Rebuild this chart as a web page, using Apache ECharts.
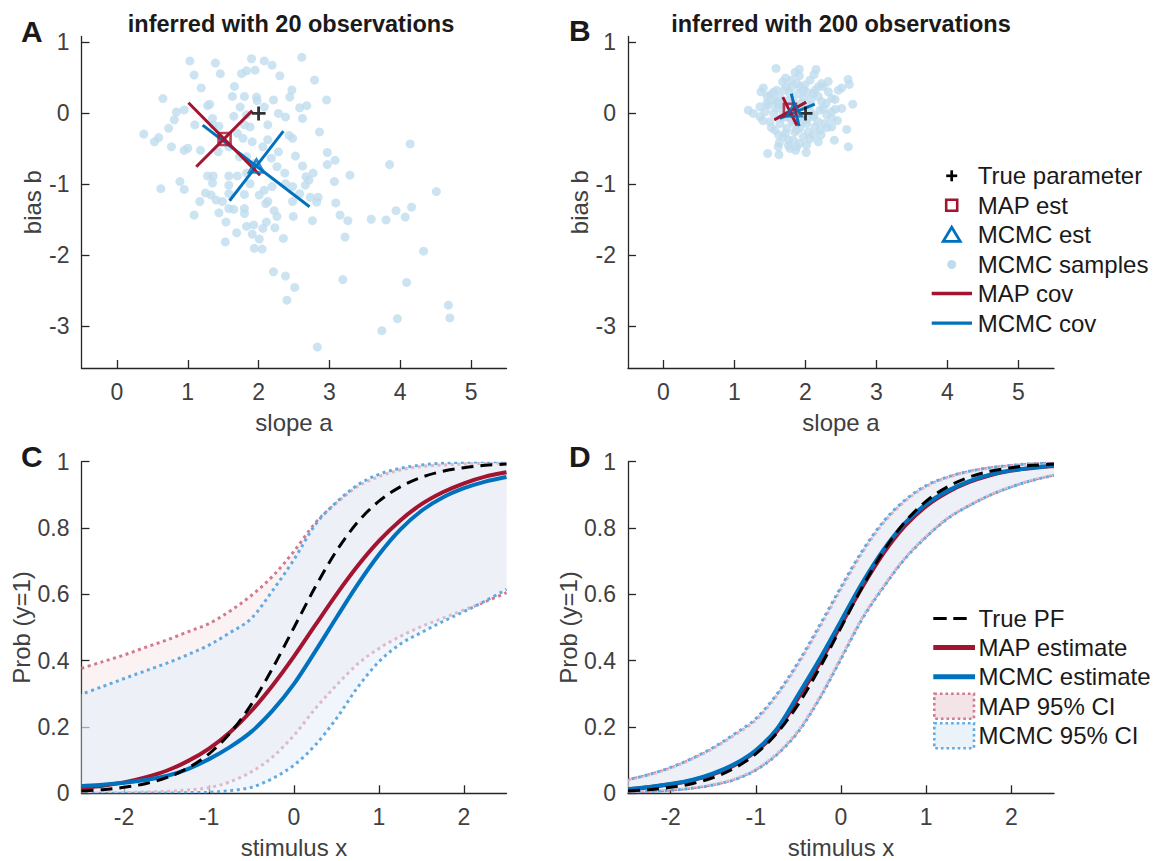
<!DOCTYPE html>
<html><head><meta charset="utf-8">
<script src="https://cdn.jsdelivr.net/npm/echarts@6/dist/echarts.min.js"></script>
<style>html,body{margin:0;padding:0;background:#fff}#c{width:1156px;height:861px}</style>
</head><body><div id="c"></div>
<script>
// ---------- DATA ----------
const titleA = 'inferred with 20 observations';
const titleB = 'inferred with 200 observations';
const slopeTicks = [0, 1, 2, 3, 4, 5];
const biasTicks = [-3, -2, -1, 0, 1];
const stimTicks = [-2, -1, 0, 1, 2];
const probTicks = [0, 0.2, 0.4, 0.6, 0.8, 1];

const trueParam = [2, 0];
const mapEstA = [1.52, -0.36];
const mcmcEstA = [1.97, -0.74];
const mapCovA = [[[1.01, 0.15], [2.02, -0.87]], [[1.12, -0.75], [1.91, 0.04]]];
const mcmcCovA = [[[1.21, -0.165], [2.72, -1.315]], [[1.59, -1.23], [2.35, -0.25]]];
const samplesA = [[1.03,0.74],[1.39,0.71],[1.09,0.54],[1.46,0.56],[1.90,0.77],[2.08,0.74],[2.19,0.68],[2.61,0.79],[1.95,0.61],[1.83,0.60],[1.76,0.56],[2.30,0.53],[2.79,0.47],[1.19,0.36],[1.66,0.38],[2.47,0.33],[2.44,0.23],[1.63,0.24],[1.80,0.24],[1.97,0.23],[1.98,0.18],[2.21,0.19],[2.96,0.19],[0.65,0.21],[1.28,0.11],[1.31,0.13],[0.84,0.02],[0.95,0.05],[1.74,0.09],[2.08,0.09],[2.58,0.08],[2.68,0.11],[2.28,0.0],[2.38,-0.05],[2.62,-0.07],[1.35,-0.07],[1.65,-0.04],[1.83,-0.02],[0.81,-0.09],[1.10,-0.16],[0.73,-0.21],[1.36,-0.16],[1.80,-0.16],[2.13,-0.16],[0.38,-0.29],[0.59,-0.34],[0.53,-0.40],[2.86,-0.26],[2.43,-0.31],[2.48,-0.35],[2.13,-0.37],[1.78,-0.35],[1.70,-0.28],[0.77,-0.47],[0.95,-0.52],[1.00,-0.49],[1.18,-0.52],[1.43,-0.54],[1.58,-0.47],[1.91,-0.40],[2.06,-0.47],[2.28,-0.54],[2.52,-0.60],[2.18,-0.63],[1.83,-0.61],[2.97,-0.55],[3.08,-0.66],[2.97,-0.72],[2.62,-0.74],[3.85,-0.72],[4.14,-0.43],[3.29,-0.87],[2.37,-0.84],[1.28,-0.88],[1.36,-0.88],[1.58,-0.88],[1.70,-0.88],[1.83,-0.84],[2.67,-0.89],[2.77,-0.84],[2.71,-0.94],[0.89,-0.96],[1.35,-0.98],[1.88,-0.99],[1.58,-1.01],[2.66,-1.01],[0.62,-1.06],[0.95,-1.07],[2.08,-1.08],[2.19,-1.03],[2.38,-0.99],[2.48,-1.03],[3.07,-0.96],[1.25,-1.12],[1.33,-1.15],[1.58,-1.13],[1.80,-1.14],[2.01,-1.15],[2.58,-1.13],[2.73,-1.18],[2.84,-1.18],[4.51,-1.10],[1.17,-1.24],[1.40,-1.22],[1.49,-1.24],[2.13,-1.24],[2.48,-1.24],[2.82,-1.25],[3.09,-1.26],[1.58,-1.34],[1.65,-1.35],[2.10,-1.27],[1.80,-1.34],[4.16,-1.32],[3.94,-1.37],[1.09,-1.43],[1.44,-1.40],[1.80,-1.41],[2.22,-1.37],[2.26,-1.45],[2.49,-1.45],[3.15,-1.43],[4.07,-1.46],[3.59,-1.49],[3.80,-1.50],[3.26,-1.51],[2.76,-1.51],[1.54,-1.53],[2.11,-1.53],[1.83,-1.59],[1.93,-1.57],[2.06,-1.62],[2.23,-1.61],[1.69,-1.68],[1.91,-1.70],[2.01,-1.77],[2.35,-1.76],[3.22,-1.74],[1.53,-1.81],[1.94,-1.90],[2.05,-1.91],[4.33,-1.94],[2.21,-2.23],[2.38,-2.29],[3.19,-2.34],[4.09,-2.38],[2.51,-2.45],[2.40,-2.63],[4.68,-2.70],[4.70,-2.88],[3.96,-2.89],[3.74,-3.06],[2.83,-3.29],[1.44,-0.18],[1.88,-0.19],[1.73,-0.61],[1.95,-0.70],[2.26,-0.75]];

const mapEstB = [1.78, 0.05];
const mcmcEstB = [1.84, 0.05];
const mapCovB = [[[1.68, 0.23], [1.88, -0.17]], [[1.56, -0.09], [2.01, 0.16]]];
const mcmcCovB = [[[1.80, 0.28], [1.91, -0.18]], [[1.64, -0.07], [2.13, 0.13]]];
const samplesB = [[1.585,0.634],[1.913,0.624],[2.148,0.62],[1.852,0.577],[1.913,0.53],[2.60,0.478],[2.618,0.408],[2.51,0.36],[2.228,0.42],[2.181,0.375],[1.678,0.445],[1.406,0.36],[1.373,0.305],[1.50,0.258],[1.594,0.328],[1.735,0.375],[1.92,0.375],[2.134,0.328],[2.322,0.305],[2.369,0.211],[2.289,0.14],[2.416,0.197],[2.665,0.131],[2.51,0.07],[1.195,0.046],[1.359,0.093],[1.453,0.14],[1.43,0.023],[1.594,0.164],[2.063,0.117],[2.204,0.046],[2.11,-0.05],[2.37,-0.07],[2.275,-0.14],[1.50,-0.118],[1.64,-0.14],[1.735,-0.21],[1.875,-0.235],[2.04,-0.259],[2.11,-0.305],[2.58,-0.225],[1.688,-0.329],[1.829,-0.376],[1.92,-0.423],[2.016,-0.446],[1.632,-0.413],[2.406,-0.376],[2.603,-0.47],[1.467,-0.564],[1.626,-0.58],[1.781,-0.493],[1.875,-0.47],[1.688,0.0],[1.97,0.211],[1.829,0.188],[2.016,-0.14],[1.92,-0.05],[2.204,-0.235],[1.78,-0.05],[1.57,-0.235],[1.359,-0.047],[1.265,0.0],[2.462,0.328],[2.11,0.28],[1.97,0.328],[1.78,0.28],[1.64,0.23],[2.063,0.469],[1.804,0.469],[1.594,0.07],[2.134,-0.188],[2.369,-0.188],[1.97,-0.329],[1.829,-0.14],[2.18,-0.40],[1.617,-0.47],[1.76,-0.376],[1.688,0.117],[1.92,0.093],[2.063,0.023],[1.735,-0.05],[1.92,-0.21],[1.547,0.188],[2.228,0.164],[2.18,-0.118],[2.369,0.023],[1.804,0.375],[1.48,0.117],[1.55,0.30],[1.62,0.12],[1.70,0.33],[1.75,0.18],[1.86,0.10],[1.95,0.15],[2.02,0.30],[2.08,0.20],[2.18,0.24],[2.25,0.07],[2.30,-0.02],[2.02,-0.08],[1.95,-0.12],[1.85,-0.26],[1.72,-0.28],[1.66,-0.06],[1.55,0.00],[1.52,-0.20],[1.62,-0.30],[2.06,-0.36],[2.22,-0.30],[2.30,-0.20],[2.45,-0.10],[2.42,0.06],[1.88,0.42],[1.99,0.40],[2.25,0.38],[1.46,0.24],[1.40,-0.10],[1.72,0.50],[2.12,0.55],[1.76,-0.45],[2.01,-0.55],[1.86,-0.52],[2.32,0.45],[1.90,0.28],[2.12,-0.02],[1.80,-0.10]];

const stimX = [-2.5,-2.25,-2,-1.75,-1.5,-1.25,-1,-0.75,-0.5,-0.25,0,0.25,0.5,0.75,1,1.25,1.5,1.75,2,2.25,2.5];
const truePF = [0.007,0.011,0.018,0.029,0.047,0.076,0.119,0.182,0.269,0.378,0.500,0.622,0.731,0.818,0.881,0.924,0.953,0.971,0.982,0.989,0.993];

const mapEstC  = [0.016,0.023,0.033,0.048,0.068,0.097,0.135,0.185,0.249,0.326,0.413,0.507,0.600,0.686,0.761,0.823,0.872,0.908,0.935,0.955,0.968];
const mcmcEstC = [0.022,0.026,0.032,0.040,0.052,0.073,0.103,0.140,0.186,0.250,0.330,0.428,0.530,0.630,0.720,0.795,0.852,0.892,0.920,0.940,0.954];
const mapLoC   = [0.000,0.001,0.002,0.004,0.006,0.010,0.017,0.035,0.065,0.110,0.175,0.255,0.326,0.390,0.437,0.473,0.503,0.528,0.553,0.578,0.605];
const mapHiC   = [0.377,0.397,0.417,0.440,0.462,0.487,0.512,0.550,0.597,0.655,0.730,0.815,0.875,0.925,0.955,0.975,0.985,0.990,0.993,0.995,0.996];
const mcmcLoC  = [0.000,0.000,0.000,0.001,0.001,0.002,0.003,0.008,0.018,0.045,0.085,0.145,0.226,0.320,0.397,0.450,0.485,0.518,0.548,0.580,0.615];
const mcmcHiC  = [0.299,0.322,0.346,0.369,0.392,0.418,0.447,0.485,0.528,0.612,0.705,0.810,0.878,0.930,0.962,0.980,0.990,0.996,0.998,1.000,1.000];

const mapEstD  = [0.012,0.018,0.027,0.039,0.058,0.085,0.126,0.188,0.288,0.393,0.508,0.622,0.724,0.806,0.866,0.908,0.938,0.959,0.973,0.981,0.987];
const mcmcEstD = [0.013,0.019,0.028,0.040,0.060,0.088,0.130,0.195,0.298,0.405,0.520,0.635,0.735,0.815,0.872,0.912,0.941,0.961,0.974,0.982,0.988];
const mapLoD   = [0.004,0.006,0.010,0.016,0.026,0.043,0.072,0.120,0.190,0.290,0.410,0.530,0.625,0.710,0.775,0.830,0.868,0.900,0.925,0.945,0.960];
const mapHiD   = [0.040,0.056,0.076,0.103,0.135,0.175,0.220,0.295,0.390,0.500,0.615,0.725,0.815,0.880,0.925,0.952,0.970,0.981,0.988,0.993,0.996];
const mcmcLoD  = [0.003,0.005,0.009,0.015,0.025,0.041,0.070,0.117,0.186,0.286,0.405,0.526,0.622,0.707,0.773,0.828,0.867,0.899,0.924,0.944,0.959];
const mcmcHiD  = [0.041,0.057,0.078,0.105,0.138,0.179,0.225,0.300,0.396,0.507,0.622,0.731,0.820,0.884,0.928,0.954,0.971,0.982,0.989,0.994,0.997];

const legendB = ['True parameter', 'MAP est', 'MCMC est', 'MCMC samples', 'MAP cov', 'MCMC cov'];
const legendD = ['True PF', 'MAP estimate', 'MCMC estimate', 'MAP 95% CI', 'MCMC 95% CI'];

// ---------- STYLE ----------
const FONT = "'Liberation Sans', Arial, Helvetica, sans-serif";
const AX = '#262626', TX = '#404040', LT = '#1a1a1a';
const RED = '#a2142f', BLUE = '#0072bd', DOT = '#bfdcee';
const RED_EDGE = '#d27a8e', BLUE_EDGE = '#62aae2';
const RED_FACE = 'rgba(240,205,212,0.26)', BLUE_FACE = 'rgba(228,238,250,0.55)';
const PLUS = 'path://M4,0h2v4h4v2h-4v4h-2v-4h-4v-2h4z';

const grids = [
  {left: 81.5, top: 36.4, width: 425, height: 331.6},
  {left: 628, top: 36.4, width: 426, height: 331.6},
  {left: 81.5, top: 461.7, width: 425, height: 331.6},
  {left: 628, top: 461.7, width: 426, height: 331.6}
];

function axisBase(i, min, max, ticks, name) {
  return {
    type: 'value', gridIndex: i, min: min, max: max, name: name,
    nameLocation: 'middle',
    nameTextStyle: {fontFamily: FONT, fontSize: 24, color: TX},
    axisLine: {show: true, onZero: false, lineStyle: {color: AX, width: 1.3}},
    axisTick: {show: true, inside: true, length: 8, customValues: ticks, lineStyle: {color: AX, width: 1.3}},
    axisLabel: {customValues: ticks, fontFamily: FONT, fontSize: 23, color: TX, margin: 12},
    splitLine: {show: false}
  };
}
function xAx(i, min, max, ticks, name) { const a = axisBase(i, min, max, ticks, name); a.nameGap = 42; return a; }
function yAx(i, min, max, ticks, name, gap) { const a = axisBase(i, min, max, ticks, name); a.nameGap = gap; a.nameRotate = 90; return a; }

// Catmull-Rom spline through pixel points -> SVG path commands
function spline(pts, start) {
  let d = (start ? 'M' : 'L') + pts[0][0] + ',' + pts[0][1];
  for (let i = 0; i < pts.length - 1; i++) {
    const p0 = pts[Math.max(i - 1, 0)], p1 = pts[i], p2 = pts[i + 1], p3 = pts[Math.min(i + 2, pts.length - 1)];
    const c1x = p1[0] + (p2[0] - p0[0]) / 6, c1y = p1[1] + (p2[1] - p0[1]) / 6;
    const c2x = p2[0] - (p3[0] - p1[0]) / 6, c2y = p2[1] - (p3[1] - p1[1]) / 6;
    d += 'C' + c1x + ',' + c1y + ' ' + c2x + ',' + c2y + ' ' + p2[0] + ',' + p2[1];
  }
  return d;
}

const series = [];
function scatterPanel(g, samples, mapCov, mcmcCov, mapEst, mcmcEst) {
  series.push({type: 'scatter', xAxisIndex: g, yAxisIndex: g, data: samples, symbolSize: 9,
    itemStyle: {color: DOT}, z: 2, silent: true});
  mcmcCov.forEach(seg => series.push({type: 'line', xAxisIndex: g, yAxisIndex: g, data: seg, showSymbol: false,
    lineStyle: {color: BLUE, width: 3}, z: 3, silent: true}));
  mapCov.forEach(seg => series.push({type: 'line', xAxisIndex: g, yAxisIndex: g, data: seg, showSymbol: false,
    lineStyle: {color: RED, width: 3}, z: 3, silent: true}));
  series.push({type: 'scatter', xAxisIndex: g, yAxisIndex: g, data: [trueParam], symbol: PLUS, symbolSize: 14,
    itemStyle: {color: '#000'}, z: 4, silent: true});
  series.push({type: 'scatter', xAxisIndex: g, yAxisIndex: g, data: [mapEst], symbol: 'rect', symbolSize: 12,
    itemStyle: {color: 'rgba(0,0,0,0)', borderColor: RED, borderWidth: 2.6}, z: 5, silent: true});
  series.push({type: 'scatter', xAxisIndex: g, yAxisIndex: g, data: [mcmcEst], symbol: 'triangle', symbolSize: [15, 13],
    itemStyle: {color: 'rgba(0,0,0,0)', borderColor: BLUE, borderWidth: 2.6}, z: 5, silent: true});
}
function band(g, xs, lo, hi, face, edge, dashOffset) {
  series.push({
    type: 'custom', xAxisIndex: g, yAxisIndex: g, coordinateSystem: 'cartesian2d', silent: true, z: 2,
    data: xs.map((x, i) => [x, lo[i], hi[i]]),
    encode: {x: 0, y: [1, 2]},
    clip: true,
    renderItem: function (params, api) {
      if (params.dataIndex !== 0) return;
      const up = [], dn = [];
      for (let i = 0; i < xs.length; i++) { up.push(api.coord([xs[i], hi[i]])); dn.push(api.coord([xs[i], lo[i]])); }
      const fillD = spline(up, true) + spline(dn.slice().reverse(), false) + 'Z';
      const ls = {stroke: edge, lineWidth: 3, lineDash: [3, 3.6], lineDashOffset: dashOffset, fill: null};
      return {type: 'group', children: [
        {type: 'path', shape: {pathData: fillD}, style: {fill: face, stroke: null}},
        {type: 'path', shape: {pathData: spline(up, true)}, style: ls},
        {type: 'path', shape: {pathData: spline(dn, true)}, style: ls}
      ]};
    }
  });
}
function curve(g, xs, ys, color, width, dash, z) {
  series.push({
    type: 'custom', xAxisIndex: g, yAxisIndex: g, coordinateSystem: 'cartesian2d', silent: true, z: z,
    data: xs.map((x, i) => [x, ys[i]]),
    encode: {x: 0, y: 1},
    clip: true,
    renderItem: function (params, api) {
      if (params.dataIndex !== 0) return;
      const pts = xs.map((x, i) => api.coord([x, ys[i]]));
      const st = {stroke: color, lineWidth: width, fill: null, lineCap: 'butt'};
      if (dash) st.lineDash = dash;
      return {type: 'path', shape: {pathData: spline(pts, true)}, style: st};
    }
  });
}

scatterPanel(0, samplesA, mapCovA, mcmcCovA, mapEstA, mcmcEstA);
scatterPanel(1, samplesB, mapCovB, mcmcCovB, mapEstB, mcmcEstB);

band(2, stimX, mapLoC, mapHiC, RED_FACE, RED_EDGE, 0);
band(2, stimX, mcmcLoC, mcmcHiC, BLUE_FACE, BLUE_EDGE, 3.3);
curve(2, stimX, mapEstC, RED, 4, null, 4);
curve(2, stimX, mcmcEstC, BLUE, 4, null, 4);
curve(2, stimX, truePF, '#000', 3, [12, 7], 5);

band(3, stimX, mapLoD, mapHiD, RED_FACE, RED_EDGE, 0);
band(3, stimX, mcmcLoD, mcmcHiD, BLUE_FACE, BLUE_EDGE, 3.3);
curve(3, stimX, mapEstD, RED, 4, null, 4);
curve(3, stimX, mcmcEstD, BLUE, 4, null, 4);
curve(3, stimX, truePF, '#000', 3, [12, 7], 5);

// ---------- GRAPHIC (titles, panel letters, legends) ----------
function txt(x, y, s, size, bold, align, color) {
  return {type: 'text', x: x, y: y, silent: true, style: {text: s, fontFamily: FONT, fontSize: size,
    fontWeight: bold ? 'bold' : 'normal', fill: color || LT, align: align || 'left', verticalAlign: 'middle'}};
}
const gr = [];
gr.push(txt(291, 23.5, titleA, 23.5, true, 'center', '#1a1a1a'));
gr.push(txt(841, 23.5, titleB, 23.5, true, 'center', '#1a1a1a'));
gr.push(txt(21, 31, 'A', 30, true, 'left', '#1a1a1a'));
gr.push(txt(569, 30, 'B', 30, true, 'left', '#1a1a1a'));
gr.push(txt(21, 456.5, 'C', 30, true, 'left', '#1a1a1a'));
gr.push(txt(569, 456.5, 'D', 30, true, 'left', '#1a1a1a'));

// legend B
const lbY = [175.8, 205.3, 234.8, 264.5, 293.5, 323.2];
const lbX = 951.7, lbT = 977.7;
gr.push({type: 'rect', silent: true, shape: {x: lbX - 5.5, y: lbY[0] - 1.35, width: 11, height: 2.7}, style: {fill: '#000'}});
gr.push({type: 'rect', silent: true, shape: {x: lbX - 1.35, y: lbY[0] - 5.5, width: 2.7, height: 11}, style: {fill: '#000'}});
gr.push({type: 'rect', silent: true, shape: {x: lbX - 5.5, y: lbY[1] - 5.5, width: 11, height: 11}, style: {fill: 'none', stroke: RED, lineWidth: 2.6}});
gr.push({type: 'polygon', silent: true, shape: {points: [[lbX, lbY[2] - 7.5], [lbX - 8.5, lbY[2] + 6.5], [lbX + 8.5, lbY[2] + 6.5]]}, style: {fill: 'none', stroke: BLUE, lineWidth: 2.8}});
gr.push({type: 'circle', silent: true, shape: {cx: lbX, cy: lbY[3], r: 4.5}, style: {fill: DOT}});
gr.push({type: 'line', silent: true, shape: {x1: 931.7, y1: lbY[4], x2: 972, y2: lbY[4]}, style: {stroke: RED, lineWidth: 3.3}});
gr.push({type: 'line', silent: true, shape: {x1: 931.7, y1: lbY[5], x2: 972, y2: lbY[5]}, style: {stroke: BLUE, lineWidth: 3.3}});
legendB.forEach((s, i) => gr.push(txt(lbT, lbY[i], s, 24, false, 'left', LT)));

// legend D
const ldY = [618.5, 647.5, 676.7, 706.2, 735.7];
const ldX0 = 933.3, ldX1 = 975, ldT = 978.5;
gr.push({type: 'line', silent: true, shape: {x1: ldX0, y1: ldY[0], x2: ldX0 + 13.4, y2: ldY[0]}, style: {stroke: '#000', lineWidth: 3}});
gr.push({type: 'line', silent: true, shape: {x1: ldX0 + 20, y1: ldY[0], x2: ldX0 + 33.4, y2: ldY[0]}, style: {stroke: '#000', lineWidth: 3}});
gr.push({type: 'line', silent: true, shape: {x1: ldX0, y1: ldY[1], x2: ldX1, y2: ldY[1]}, style: {stroke: RED, lineWidth: 5}});
gr.push({type: 'line', silent: true, shape: {x1: ldX0, y1: ldY[2], x2: ldX1, y2: ldY[2]}, style: {stroke: BLUE, lineWidth: 5}});
gr.push({type: 'rect', silent: true, shape: {x: ldX0 + 1, y: ldY[3] - 12.5, width: ldX1 - ldX0 - 2, height: 25},
  style: {fill: '#f2e4e7', stroke: RED_EDGE, lineWidth: 2.6, lineDash: [2.6, 3]}});
gr.push({type: 'rect', silent: true, shape: {x: ldX0 + 1, y: ldY[4] - 12.5, width: ldX1 - ldX0 - 2, height: 25},
  style: {fill: '#eaf2fa', stroke: BLUE_EDGE, lineWidth: 2.6, lineDash: [2.6, 3]}});
legendD.forEach((s, i) => gr.push(txt(ldT, ldY[i], s, 24, false, 'left', LT)));

const chart = echarts.init(document.getElementById('c'), null, {renderer: 'svg', width: 1156, height: 861});
chart.setOption({
  animation: false,
  backgroundColor: '#ffffff',
  grid: grids,
  xAxis: [
    xAx(0, -0.5, 5.5, slopeTicks, 'slope a'),
    xAx(1, -0.5, 5.5, slopeTicks, 'slope a'),
    xAx(2, -2.5, 2.5, stimTicks, 'stimulus x'),
    xAx(3, -2.5, 2.5, stimTicks, 'stimulus x')
  ],
  yAxis: [
    yAx(0, -3.585, 1.085, biasTicks, 'bias b', 37),
    yAx(1, -3.585, 1.085, biasTicks, 'bias b', 37),
    yAx(2, 0, 1, probTicks, 'Prob (y=1)', 47),
    yAx(3, 0, 1, probTicks, 'Prob (y=1)', 47)
  ],
  series: series,
  graphic: gr
});
</script></body></html>
